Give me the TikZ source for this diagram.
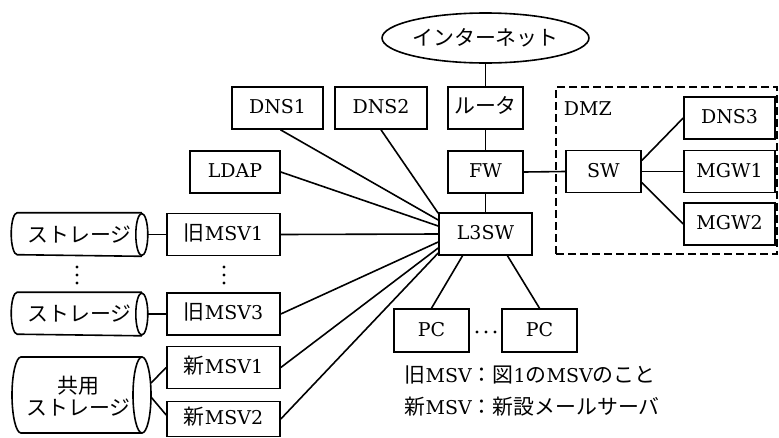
\documentclass[tikz,border=0pt]{standalone}
\usepackage{fontspec}
\setmainfont{DejaVu Serif}
\newfontfamily\jp[Scale=1.1]{Noto Sans CJK JP}
\usetikzlibrary{shapes.geometric}
\begin{document}
\begin{tikzpicture}[x=1pt,y=-1pt, line width=1.6pt,
  font=\fontsize{19}{23}\selectfont,
  box/.style={draw, rectangle, minimum height=42pt, inner sep=0pt, text height=14pt, text depth=3pt},
  plain/.style={inner sep=0pt},
  dot/.style={circle, fill, inner sep=0pt, minimum size=3.4pt},
  dmzbox/.style={draw, dash pattern=on 8pt off 4pt, minimum width=221pt, minimum height=167pt, inner sep=0pt}]
\useasboundingbox (0,0) rectangle (779,437);
% nodes
\node[ellipse, draw, minimum width=175pt, minimum height=50pt, inner sep=0pt] (net) at (485.5,38) {\jp インターネット};
\node[box, minimum width=75pt] (rt) at (485.5,108) {\jp ルータ};
\node[box, minimum width=91pt] (dns1) at (277.5,108) {DNS1};
\node[box, minimum width=92pt] (dns2) at (381,108) {DNS2};
\node[box, minimum width=90pt] (ldap) at (235,172) {LDAP};
\node[box, minimum width=75pt] (fw) at (485.5,172) {FW};
\node[box, minimum width=93pt] (l3) at (485.5,234) {L3SW};
\node[dmzbox] (dmz) at (666.5,170.5) {};
\node[plain, anchor=west] (dmzl) at (563,109) {DMZ};
\node[box, minimum width=75pt] (sw) at (603.5,171.5) {SW};
\node[box, minimum width=91pt] (dns3) at (729.5,118) {DNS3};
\node[box, minimum width=91pt] (mgw1) at (729.5,171.5) {MGW1};
\node[box, minimum width=91pt] (mgw2) at (729.5,224) {MGW2};
\node[box, minimum width=113pt] (o1) at (223.5,234.5) {{\jp 旧}MSV1};
\node[box, minimum width=113pt] (o3) at (223.5,314) {{\jp 旧}MSV3};
\node[box, minimum width=113pt] (n1) at (223.5,367.5) {{\jp 新}MSV1};
\node[box, minimum width=113pt, minimum height=35pt] (n2) at (223.5,419) {{\jp 新}MSV2};
\node[box, minimum width=75pt, minimum height=43pt] (pc1) at (431.5,330.5) {PC};
\node[box, minimum width=75pt, minimum height=43pt] (pc2) at (539.5,330.5) {PC};
\foreach \i/\x in {1/477,2/486,3/495} \node[dot] (pcd\i) at (\x,332) {};
\foreach \i/\y in {1/267,2/275,3/283} {
  \node[dot] (va\i) at (77,\y) {};
  \node[dot] (vb\i) at (224,\y) {};
}
\node[plain, anchor=west] (lg1) at (404,375) {{\jp 旧}MSV{\jp ：図}1{\jp の}MSV{\jp のこと}};
\node[plain, anchor=west] (lg2) at (404,407) {{\jp 新}MSV{\jp ：新設メールサーバ}};
% storages
\node[minimum width=135pt, minimum height=42pt, inner sep=0pt] (st1) at (79.5,234.5) {\jp ストレージ};
\node[minimum width=135pt, minimum height=42pt, inner sep=0pt] (st3) at (79.5,314) {\jp ストレージ};
\node[minimum width=139pt, minimum height=76pt, inner sep=0pt, align=center] (sh) at (78.5,396) {\jp 共用\\[-1pt]\jp ストレージ};
\foreach \s in {st1,st3}{
  \draw ([xshift=-6pt]\s.north east) -- ([xshift=6pt]\s.north west) arc(90:270:6pt and 21pt) -- ([xshift=-6pt]\s.south east);
  \draw ([xshift=-6pt]\s.east) ellipse (6pt and 21pt);
}
\coordinate (shne) at (151,357);
\coordinate (shnw) at (12,357);
\draw ([xshift=-9pt]shne) -- ([xshift=9pt]shnw) arc(90:270:9pt and 38pt) -- (142,433);
\draw (142,395) ellipse (9pt and 38pt);
\coordinate (she) at (151,395);
% connectors
\draw (net.south) -- (rt.north);
\draw (rt.south) -- (fw.north);
\draw (fw.south) -- (l3.north);
\draw (fw.east) -- (sw.west);
\draw ([yshift=11pt]sw.east) -- (dns3.west);
\draw (sw.east) -- (mgw1.west);
\draw ([yshift=-11pt]sw.east) -- (mgw2.west);
\draw (st1.east) -- (o1.west);
\draw (st3.east) -- (o3.west);
\draw ([yshift=12pt]she) -- (n1.west);
\draw ([yshift=-2pt]she) -- ([yshift=4pt]n2.west);
\draw ([xshift=3pt]dns1.south) -- ([yshift=14pt]l3.west);
\draw (dns2.south) -- ([yshift=-1pt]l3.north west);
\draw (ldap.east) -- ([yshift=8pt]l3.west);
\draw (o1.east) -- (l3.west);
\draw (o3.east) -- ([yshift=-8pt]l3.west);
\draw (n1.east) -- ([yshift=-14pt]l3.west);
\draw (n2.east) -- ([yshift=-19pt]l3.west);
\draw ([xshift=-23pt]l3.south) -- (pc1.north);
\draw ([xshift=22pt]l3.south) -- (pc2.north);
\end{tikzpicture}
\end{document}
